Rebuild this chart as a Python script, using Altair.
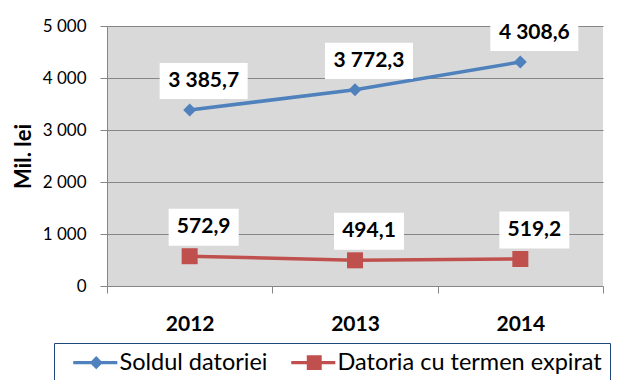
import altair as alt
import pandas as pd

years = ["2012", "2013", "2014"]
soldul = [3385.7, 3772.3, 4308.6]
expirat = [572.9, 494.1, 519.2]
series = ["Soldul datoriei", "Datoria cu termen expirat"]
y_ticks = [0, 1000, 2000, 3000, 4000, 5000]
colors = ["#4F81BD", "#C0504D"]

rows = []
for name, vals in zip(series, [soldul, expirat]):
    for yr, v in zip(years, vals):
        rows.append({"An": yr, "Serie": name, "Valoare": v})
df = pd.DataFrame(rows)

FONT = "Lato"
GRID = "#868686"

# legend symbols: a short line with the marker on it (filled paths)
sym_blue = "M0,-0.15H3.83V0.15H0Z M1.43,0L2,-0.57L2.57,0L2,0.57Z"
sym_red = "M0,-0.15H3.83V0.15H0Z M1.35,-0.65H2.65V0.65H1.35Z"

x_enc = alt.X(
    "An:N",
    scale=alt.Scale(type="band", domain=years, paddingInner=0, paddingOuter=0),
    axis=alt.Axis(
        title=None, labelAngle=0, labelFont=FONT, labelFontSize=21,
        labelFontWeight="bold", labelColor="black", tickBand="extent",
        tickSize=7, tickColor=GRID, domainColor=GRID, labelPadding=20, grid=False,
    ),
)
y_enc = alt.Y(
    "Valoare:Q",
    scale=alt.Scale(domain=[0, 5000], nice=False),
    axis=alt.Axis(
        values=y_ticks, title="Mil. lei", titleFont=FONT, titleFontSize=22,
        titleFontWeight="bold", titleColor="black", titleX=-84, titleY=130,
        titleAngle=270, titleAlign="center", titleBaseline="middle",
        labelFont=FONT, labelFontSize=17, labelColor="black", labelPadding=14,
        tickSize=7, tickColor=GRID, gridColor=GRID, domainColor=GRID,
        labelExpr="replace(format(datum.value, ','), ',', ' ')",
    ),
)

legend_def = alt.Legend(
    title=None, orient="none", legendX=-53, legendY=317,
    direction="horizontal", labelFont=FONT, labelFontSize=23.5,
    labelColor="black", strokeColor="#1F497D", padding=7.5,
    symbolSize=529, labelOffset=34.5, columnPadding=12, symbolOpacity=1,
    symbolStrokeWidth=0, labelLimit=400,
)

color_scale = alt.Scale(domain=series, range=colors)

base = alt.Chart(df)

lines = base.mark_line(strokeWidth=3.5).encode(
    x=x_enc, y=y_enc, color=alt.Color("Serie:N", scale=color_scale, legend=legend_def)
)

legend_layer = base.mark_point(
    filled=True, opacity=0, size=529
).encode(
    x="An:N",
    y="Valoare:Q",
    color=alt.Color("Serie:N", scale=color_scale, legend=legend_def),
    shape=alt.Shape("Serie:N", scale=alt.Scale(domain=series, range=[sym_blue, sym_red]), legend=legend_def),
)

pts_blue = base.transform_filter(alt.datum.Serie == series[0]).mark_point(
    shape="diamond", size=169, filled=True, opacity=1, color=colors[0]
).encode(x="An:N", y="Valoare:Q")
pts_red = base.transform_filter(alt.datum.Serie == series[1]).mark_point(
    shape="square", size=256, filled=True, opacity=1, color=colors[1]
).encode(x="An:N", y="Valoare:Q")

box_blue = base.transform_filter(alt.datum.Serie == series[0]).mark_point(
    shape="M-1,-0.41H1V0.41H-1Z", size=7744, filled=True, opacity=1,
    color="white", xOffset=14, yOffset=-29,
).encode(x="An:N", y="Valoare:Q")
box_red = base.transform_filter(alt.datum.Serie == series[1]).mark_point(
    shape="M-1,-0.53H1V0.53H-1Z", size=4900, filled=True, opacity=1,
    color="white", xOffset=14, yOffset=-29,
).encode(x="An:N", y="Valoare:Q")

labels = base.transform_calculate(
    eticheta="replace(replace(format(datum.Valoare, ',.1f'), ',', ' '), '.', ',')"
).mark_text(
    font=FONT, fontSize=21, fontWeight="bold", color="black",
    xOffset=14, yOffset=-29, baseline="middle", align="center",
).encode(x="An:N", y="Valoare:Q", text="eticheta:N")

chart = alt.layer(lines, legend_layer, pts_blue, pts_red, box_blue, box_red, labels).properties(
    width=496, height=260,
    autosize=alt.AutoSizeParams(type="none"),
    padding={"left": 99, "top": 18, "right": 24, "bottom": 94},
    background="white",
).configure_view(fill="#D9D9D9", strokeWidth=0)

chart.save("out.html", embed_options={"renderer": "svg", "actions": False})
